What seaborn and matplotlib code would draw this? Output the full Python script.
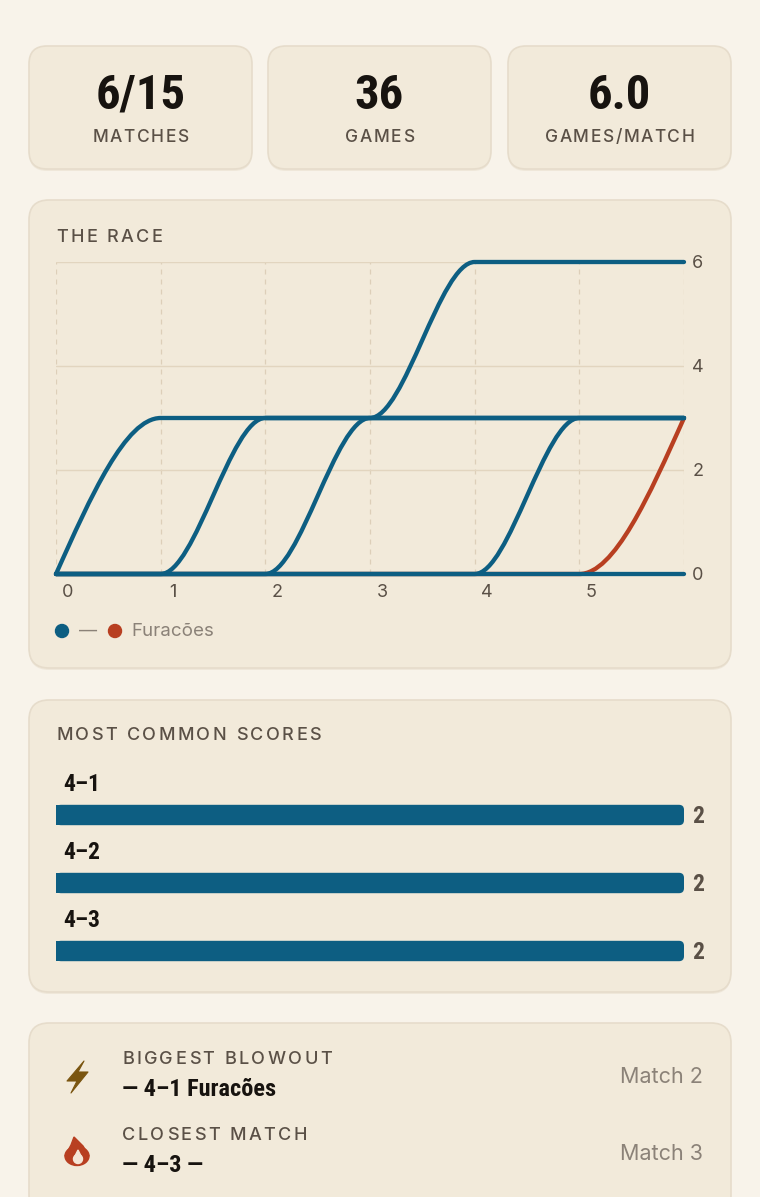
import numpy as np
import matplotlib
matplotlib.use('Agg')
import matplotlib.pyplot as plt
from matplotlib import font_manager
from matplotlib.patches import FancyBboxPatch, PathPatch, Circle, Polygon, Ellipse
from matplotlib.path import Path
from matplotlib.transforms import ScaledTranslation
import seaborn as sns

# ---- data ----
stat_values = ['6/15', '36', '6.0']
stat_labels = ['MATCHES', 'GAMES', 'GAMES/MATCH']

race_x = [0, 1, 2, 3, 4, 5, 6]
# None = series not drawn at that match
race_blue = [
    [0, 3, 3, 3, 3, 3, 3],
    [0, 0, 3, 3, 3, 3, 3],
    [0, 0, 0, 3, 3, 3, 3],
    [None, None, 3, 3, 6, 6, 6],
    [0, 0, 0, 0, 0, 3, 3],
    [0, 0, 0, 0, 0, 0, 0],
]
race_orange = [0, 0, 0, 0, 0, 0, 3]
legend_names = ['—', 'Furacões']
y_ticks = [0, 2, 4, 6]
x_tick_labels = ['0', '1', '2', '3', '4', '5']

score_labels = ['4–1', '4–2', '4–3']
score_counts = [2, 2, 2]

highlight_titles = ['BIGGEST BLOWOUT', 'CLOSEST MATCH']
highlight_texts = ['— 4–1 Furacões', '— 4–3 —']
highlight_matches = ['Match 2', 'Match 3']

# ---- style ----
BG = '#f8f3ea'
CARD = '#f2eada'
EDGE = '#e6dccb'
BLUE = '#0d5e82'
ORANGE = '#b83f21'
INK = '#17130f'
MUTED = '#5a5046'
GREY = '#8b8278'

sns.set_theme(style='white')


def pick(*names):
    avail = {f.name for f in font_manager.fontManager.ttflist}
    for n in names:
        if n in avail:
            return n
    return 'DejaVu Sans'


COND = pick('Liberation Sans Narrow', 'Roboto Condensed', 'Roboto')
SANS = pick('Inter', 'Roboto', 'Noto Sans')
plt.rcParams['font.family'] = [SANS, 'DejaVu Sans']

W, H = 760, 1197
fig = plt.figure(figsize=(W / 100, H / 100), dpi=100)
fig.patch.set_facecolor(BG)
renderer = fig.canvas.get_renderer()

# background axes in pixel coordinates
bg = fig.add_axes([0, 0, 1, 1], zorder=0)
bg.set_xlim(0, W)
bg.set_ylim(H, 0)
bg.axis('off')


def text_w(s, **kw):
    t = fig.text(0, 0, s, **kw)
    w = t.get_window_extent(renderer).width
    t.remove()
    return w


def spaced(x, y, s, spacing, ha='left', **kw):
    # letter-spaced caps label, drawn char by char in pixel coords
    bar = text_w('|', **kw)
    lefts = [text_w(s[:k] + '|', **kw) - bar if k else 0 for k in range(len(s))]
    total = text_w(s, **kw) + spacing * (len(s) - 1)
    if ha == 'center':
        x = x - total / 2
    for k, c in enumerate(s):
        bg.text(x + lefts[k] + spacing * k, y, c, ha='left', va='center', **kw)


def card(x0, y0, x1, y1, r=20):
    sh = FancyBboxPatch((x0, y0 + 2), x1 - x0, y1 - y0,
                        boxstyle=f'round,pad=0,rounding_size={r}',
                        fc='#e9e0cf', ec='none', alpha=0.6)
    bg.add_patch(sh)
    p = FancyBboxPatch((x0, y0), x1 - x0, y1 - y0,
                       boxstyle=f'round,pad=0,rounding_size={r}',
                       fc=CARD, ec=EDGE, lw=1.2)
    bg.add_patch(p)


def px_axes(x0, y0, x1, y1):
    return fig.add_axes([x0 / W, 1 - y1 / H, (x1 - x0) / W, (y1 - y0) / H], zorder=2)


label_kw = dict(fontsize=13, fontweight='medium', color=MUTED)

# stat cards
for i, (v, lab) in enumerate(zip(stat_values, stat_labels)):
    x0 = [29, 268, 508][i]
    x1 = x0 + 223
    card(x0, 46, x1, 169, r=18)
    cx = (x0 + x1) / 2
    bg.text(cx, 96, v, ha='center', va='center', fontsize=35, fontweight='bold',
            family=COND, color=INK)
    spaced(cx, 138, lab, 1.6, ha='center', fontsize=12.5, fontweight='medium', color=MUTED)

# ---- race card ----
card(29, 200, 731, 668)
spaced(56, 237, 'THE RACE', 2.4, **label_kw)

ax = px_axes(56, 262, 684, 574)
ax.set_facecolor('none')
ax.set_xlim(0, 6)
ax.set_ylim(0, 6)
for s in ax.spines.values():
    s.set_visible(False)


def monotone_tangents(y):
    y = np.asarray(y, dtype=float)
    s = np.diff(y)
    t = np.zeros(len(y))
    sign = lambda v: -1.0 if v < 0 else 1.0
    for i in range(1, len(y) - 1):
        p = (s[i - 1] + s[i]) / 2
        t[i] = (sign(s[i - 1]) + sign(s[i])) * min(abs(s[i - 1]), abs(s[i]), 0.5 * abs(p))
    t[0] = (3 * s[0] - t[1]) / 2
    t[-1] = (3 * s[-1] - t[-2]) / 2
    return t


def curve_path(xs, ys):
    pts = [(x, y) for x, y in zip(xs, ys) if y is not None]
    xs = [p[0] for p in pts]
    ys = [p[1] for p in pts]
    t = monotone_tangents(ys)
    verts = [(xs[0], ys[0])]
    codes = [Path.MOVETO]
    for i in range(len(xs) - 1):
        dx = (xs[i + 1] - xs[i]) / 3
        verts += [(xs[i] + dx, ys[i] + dx * t[i]),
                  (xs[i + 1] - dx, ys[i + 1] - dx * t[i + 1]),
                  (xs[i + 1], ys[i + 1])]
        codes += [Path.CURVE4] * 3
    return Path(verts, codes)


ax.add_patch(PathPatch(curve_path(race_x, race_orange), fc='none', ec=ORANGE,
                       lw=3.1, capstyle='round', clip_on=False, zorder=3))
for ys in race_blue:
    ax.add_patch(PathPatch(curve_path(race_x, ys), fc='none', ec=BLUE,
                           lw=3.1, capstyle='round', joinstyle='round',
                           clip_on=False, zorder=4))

ax.set_yticks(y_ticks)
ax.yaxis.tick_right()
ax.set_xticks(race_x)
ax.set_xticklabels(x_tick_labels + [''])
ax.tick_params(axis='both', length=0, labelsize=13, labelcolor=MUTED)
ax.tick_params(axis='y', pad=6)
ax.tick_params(axis='x', pad=7)
off = ScaledTranslation(12 / 100, 0, fig.dpi_scale_trans)
for lab in ax.get_xticklabels():
    lab.set_transform(lab.get_transform() + off)
ax.xaxis.grid(True, color='#ddcfb9', lw=0.9, linestyle=(0, (4, 4)))
ax.yaxis.grid(True, color='#e2d5bf', lw=1.0)
ax.set_axisbelow(True)

# legend
bg.add_patch(Circle((62, 631), 6.5, color=BLUE))
bg.text(79, 631, legend_names[0], ha='left', va='center', fontsize=13, color=GREY)
bg.add_patch(Circle((115, 631), 6.5, color=ORANGE))
bg.text(131, 631, legend_names[1], ha='left', va='center', fontsize=13.5, color=GREY)

# ---- most common scores ----
card(29, 700, 731, 992)
spaced(56, 736, 'MOST COMMON SCORES', 2.4, **label_kw)

axb = px_axes(56, 781, 684, 985)
axb.set_facecolor('none')
sns.barplot(x=score_counts, y=score_labels, orient='h', color=BLUE, saturation=1,
            width=0.3, linewidth=0, edgecolor='none', ax=axb)
axb.set_xlim(0, max(score_counts))
axb.set_ylim(len(score_labels) - 0.5, -0.5)
axb.axis('off')
fig.canvas.draw()
# round the right end of each bar: rounded copy in pixel space, square half kept
for p in list(axb.patches):
    (x0, y0), (x1, y1) = axb.transData.transform(
        [(p.get_x(), p.get_y()), (p.get_x() + p.get_width(), p.get_y() + p.get_height())])
    top, bot = H - max(y0, y1), H - min(y0, y1)
    bg.add_patch(FancyBboxPatch((x0, top), x1 - x0, bot - top,
                                boxstyle='round,pad=0,rounding_size=5',
                                fc=BLUE, ec='none', zorder=1))
    p.set_width(p.get_width() / 2)
for i, (lab, v) in enumerate(zip(score_labels, score_counts)):
    axb.annotate(lab, xy=(0, i), xytext=(5, 22), textcoords='offset points',
                 ha='left', va='center', fontsize=17, fontweight='bold',
                 family=COND, color=INK)
    axb.annotate(str(v), xy=(v, i), xytext=(6, -1), textcoords='offset points',
                 ha='left', va='center', fontsize=17, fontweight='bold',
                 family=COND, color=MUTED, annotation_clip=False)

# ---- highlights ----
card(29, 1023, 731, 1215)
rows_y = [1059, 1136]
for i in range(2):
    y = rows_y[i]
    spaced(122, y, highlight_titles[i], 2.4, **label_kw)
    bg.text(122, y + 30, highlight_texts[i], ha='left', va='center', fontsize=17.5,
            fontweight='bold', family=COND, color=INK)
    bg.text(703, y + 18, highlight_matches[i], ha='right', va='center', fontsize=15.5,
            color=GREY)

# lightning icon
bg.add_patch(Polygon([(84, 1061), (67, 1081), (77, 1081), (71, 1093),
                      (88, 1072), (78, 1072), (84, 1061)],
                     closed=True, fc='#7a5510', ec='#7a5510', lw=0.8, joinstyle='round'))
# flame icon
bg.add_patch(Ellipse((77, 1156), 24, 19, color=ORANGE))
bg.add_patch(Polygon([(65, 1156), (71, 1145), (74, 1137), (83, 1146), (89, 1156)],
                     closed=True, color=ORANGE))
bg.add_patch(Ellipse((78, 1159), 9, 9, color='#f5e6d6'))
bg.add_patch(Polygon([(73.5, 1159), (78, 1150), (82.5, 1159)], closed=True, color='#f5e6d6'))

fig.savefig('out.png', dpi=100, facecolor=BG)
